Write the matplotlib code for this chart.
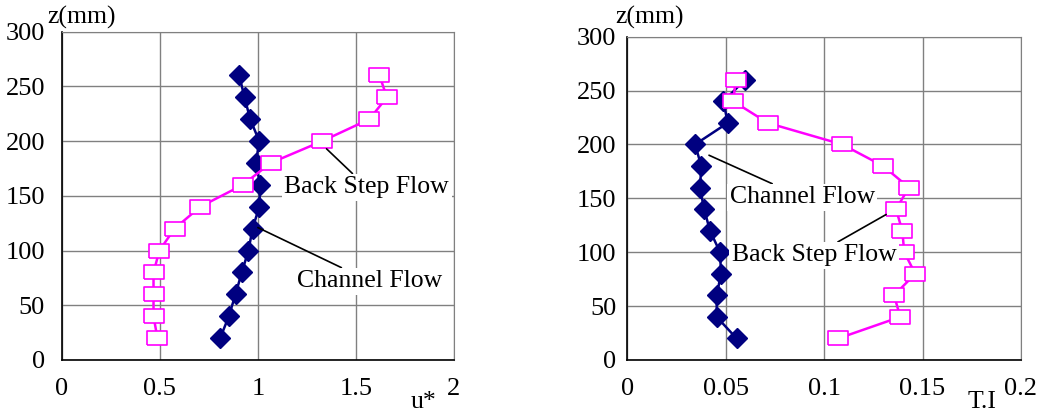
import numpy as np
import matplotlib
matplotlib.use("Agg")
import matplotlib.pyplot as plt

plt.rcParams['font.family'] = ['Liberation Serif', 'DejaVu Serif']

# heights (mm)
z = [260, 240, 220, 200, 180, 160, 140, 120, 100, 80, 60, 40, 20]

# u* profiles
u_channel = [0.905, 0.932, 0.961, 1.007, 0.99, 1.012, 1.007, 0.973, 0.952, 0.918, 0.886, 0.852, 0.808]
u_backstep = [1.62, 1.658, 1.568, 1.328, 1.065, 0.923, 0.706, 0.575, 0.498, 0.468, 0.468, 0.468, 0.488]

# turbulence intensity profiles
ti_channel = [0.0598, 0.0488, 0.051, 0.0344, 0.0376, 0.0369, 0.039, 0.042, 0.0471, 0.0476, 0.0454, 0.0454, 0.0555]
ti_backstep = [0.055, 0.0539, 0.0713, 0.1092, 0.130, 0.1431, 0.1365, 0.1397, 0.1407, 0.1463, 0.1355, 0.1387, 0.1072]

u_ticks = [0, 0.5, 1, 1.5, 2]
u_ticklabels = ['0', '0.5', '1', '1.5', '2']
ti_ticks = [0, 0.05, 0.1, 0.15, 0.2]
ti_ticklabels = ['0', '0.05', '0.1', '0.15', '0.2']
z_ticks = [0, 50, 100, 150, 200, 250, 300]

NAVY = '#000080'
MAG = '#FF00FF'
rect = [(-1.35, -1), (1.35, -1), (1.35, 1), (-1.35, 1), (-1.35, -1)]

fig = plt.figure(figsize=(10.48, 4.17), dpi=100)
ax1 = fig.add_axes([0.0589, 0.1367, 0.3743, 0.7873])
ax2 = fig.add_axes([0.5986, 0.1367, 0.3756, 0.7753])


def style(ax, xticks, xlabels, xmax, ypad):
    ax.set_xlim(0, xmax)
    ax.set_ylim(0, 300)
    ax.set_xticks(xticks)
    ax.set_xticklabels(xlabels)
    ax.set_yticks(z_ticks)
    ax.grid(True, color='#808080', lw=1)
    ax.set_axisbelow(True)
    ax.tick_params(axis='both', length=0, labelsize=19)
    ax.tick_params(axis='x', pad=13)
    ax.tick_params(axis='y', pad=ypad)
    for s in ['top', 'right']:
        ax.spines[s].set_color('#808080')
    for s in ['left', 'bottom']:
        ax.spines[s].set_color('black')
        ax.spines[s].set_linewidth(1.2)


def annot(ax, text, xy, xytext, ha='left'):
    ax.annotate(text, xy=xy, xytext=xytext, fontsize=18.5, ha=ha, va='center',
                textcoords='data', zorder=5,
                bbox=dict(boxstyle='square,pad=0.1', fc='white', ec='none'),
                arrowprops=dict(arrowstyle='-', color='black', lw=1.2,
                                shrinkA=0, shrinkB=0))


# left panel: u*
style(ax1, u_ticks, u_ticklabels, 2, 12)
ax1.plot(u_channel, z, color=NAVY, lw=1.8, marker='D', ms=10, mfc=NAVY, mec=NAVY, zorder=3)
ax1.plot(u_backstep, z, color=MAG, lw=1.8, marker=rect, ms=14.5, mfc='white', mec=MAG,
         mew=1.2, zorder=4)
annot(ax1, 'Back Step Flow', (1.35, 193), (1.135, 158))
annot(ax1, 'Channel Flow', (1.0, 121), (1.2, 72))
fig.text(0.0448, 0.958, 'z(mm)', fontsize=18.5, va='center')
fig.text(0.392, 0.036, 'u*', fontsize=18.5, va='center')

# right panel: T.I
style(ax2, ti_ticks, ti_ticklabels, 0.2, 8)
ax2.plot(ti_channel, z, color=NAVY, lw=1.8, marker='D', ms=10, mfc=NAVY, mec=NAVY, zorder=3)
ax2.plot(ti_backstep, z, color=MAG, lw=1.8, marker=rect, ms=14.5, mfc='white', mec=MAG,
         mew=1.2, zorder=4)
annot(ax2, 'Channel Flow', (0.0415, 190), (0.052, 151))
annot(ax2, 'Back Step Flow', (0.1315, 135), (0.053, 97))
fig.text(0.587, 0.958, 'z(mm)', fontsize=18.5, va='center')
fig.text(0.923, 0.036, 'T.I', fontsize=18.5, va='center')

fig.savefig('out.png', dpi=100)
